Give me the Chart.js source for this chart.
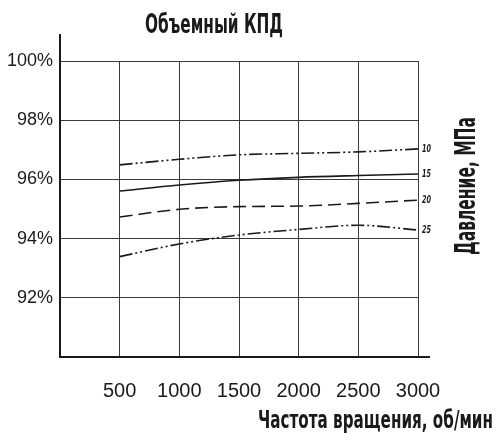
<!DOCTYPE html>
<html>
<head>
<meta charset="utf-8">
<script src="https://cdn.jsdelivr.net/npm/chart.js@4"></script>
<style>
  html, body { margin: 0; padding: 0; background: #fff; }
  #wrap { width: 496px; height: 440px; }
</style>
</head>
<body>
<div id="wrap"><canvas id="chart" width="496" height="440"></canvas></div>
<script>
const rpm = [500, 1000, 1500, 2000, 2500, 3000];
const yTicks = [92, 94, 96, 98, 100];
const pressures = ['10', '15', '20', '25'];
const eff10 = [96.49, 96.68, 96.83, 96.88, 96.93, 97.03];
const eff15 = [95.61, 95.81, 95.97, 96.07, 96.13, 96.18];
const eff20 = [94.73, 94.99, 95.08, 95.1, 95.19, 95.3];
const eff25 = [93.39, 93.82, 94.12, 94.31, 94.45, 94.29];

const titleText = 'Объемный КПД';
const xTitleText = 'Частота вращения, об/мин';
const yTitleText = 'Давление, МПа';

const sans = '"Liberation Sans", Arial, sans-serif';
const heavy = '"DejaVu Sans", sans-serif';
const ink = '#1a1a1a';

const dashDotDot = [13, 3, 2, 3, 2, 3];
const dashed = [13, 6];

const makeSet = (label, values, dash) => ({
  label,
  data: rpm.map((x, i) => ({ x, y: values[i] })),
  borderColor: ink,
  borderWidth: 1.6,
  borderDash: dash,
  pointRadius: 0,
  tension: 0.35,
  cubicInterpolationMode: 'monotone',
  fill: false,
});

// draw text squeezed horizontally to a given width (the source uses a narrow face)
const squeezed = (ctx, text, x, y, width, align) => {
  const w = ctx.measureText(text).width;
  const k = width / w;
  ctx.save();
  ctx.translate(x, y);
  ctx.scale(k, 1);
  ctx.textAlign = align;
  ctx.fillText(text, 0, 0);
  ctx.restore();
};

const decorations = {
  id: 'decorations',
  afterDraw(chart) {
    const { ctx, chartArea, scales } = chart;
    const xs = scales.x;
    const ys = scales.y;
    ctx.save();

    // axis lines run a bit past the grid
    ctx.strokeStyle = ink;
    ctx.lineWidth = 2;
    ctx.beginPath();
    ctx.moveTo(chartArea.left, chartArea.top);
    ctx.lineTo(chartArea.left, chartArea.top - 27);
    ctx.moveTo(chartArea.right, chartArea.bottom);
    ctx.lineTo(chartArea.right + 12, chartArea.bottom);
    ctx.stroke();

    // pressure labels at line ends
    ctx.fillStyle = ink;
    ctx.font = 'italic bold 11px ' + heavy;
    ctx.textBaseline = 'middle';
    chart.data.datasets.forEach((ds) => {
      const last = ds.data[ds.data.length - 1];
      squeezed(ctx, ds.label, xs.getPixelForValue(last.x) + 4, ys.getPixelForValue(last.y), 9, 'left');
    });

    // titles
    ctx.textBaseline = 'alphabetic';
    ctx.font = 'bold 27px ' + heavy;
    squeezed(ctx, titleText, 214, 33, 138, 'center');

    ctx.font = 'bold 25px ' + heavy;
    squeezed(ctx, xTitleText, 493, 428, 235, 'right');

    ctx.translate(475, 186);
    ctx.rotate(-Math.PI / 2);
    ctx.font = 'bold 28px ' + heavy;
    squeezed(ctx, yTitleText, 0, 0, 138, 'center');
    ctx.restore();
  },
};

new Chart(document.querySelector('#chart'), {
  type: 'line',
  data: {
    datasets: [
      makeSet(pressures[0], eff10, dashDotDot),
      makeSet(pressures[1], eff15, []),
      makeSet(pressures[2], eff20, dashed),
      makeSet(pressures[3], eff25, dashDotDot),
    ],
  },
  options: {
    responsive: false,
    animation: false,
    layout: { padding: { top: 61, right: 78, left: 0, bottom: 0 } },
    plugins: {
      legend: { display: false },
      tooltip: { enabled: false },
      title: { display: false },
    },
    scales: {
      x: {
        type: 'linear',
        min: 0,
        max: 3000,
        afterBuildTicks: (axis) => {
          axis.ticks = rpm.map((value) => ({ value }));
        },
        afterFit: (axis) => {
          axis.height = 83;
        },
        grid: { color: '#3a3a3a', lineWidth: 1, drawTicks: false },
        border: { display: true, color: ink, width: 2 },
        ticks: {
          color: ink,
          padding: 22,
          maxRotation: 0,
          autoSkip: false,
          callback: (value) => String(value),
          font: { family: sans, size: 20 },
        },
      },
      y: {
        min: 90,
        max: 100,
        afterBuildTicks: (axis) => {
          axis.ticks = yTicks.map((value) => ({ value }));
        },
        afterFit: (axis) => {
          axis.width = 60;
        },
        grid: { color: '#3a3a3a', lineWidth: 1, drawTicks: false },
        border: { display: true, color: ink, width: 2 },
        ticks: {
          color: ink,
          padding: 7,
          autoSkip: false,
          callback: (value) => value + '%',
          font: { family: sans, size: 18 },
        },
      },
    },
  },
  plugins: [decorations],
});
</script>
</body>
</html>
